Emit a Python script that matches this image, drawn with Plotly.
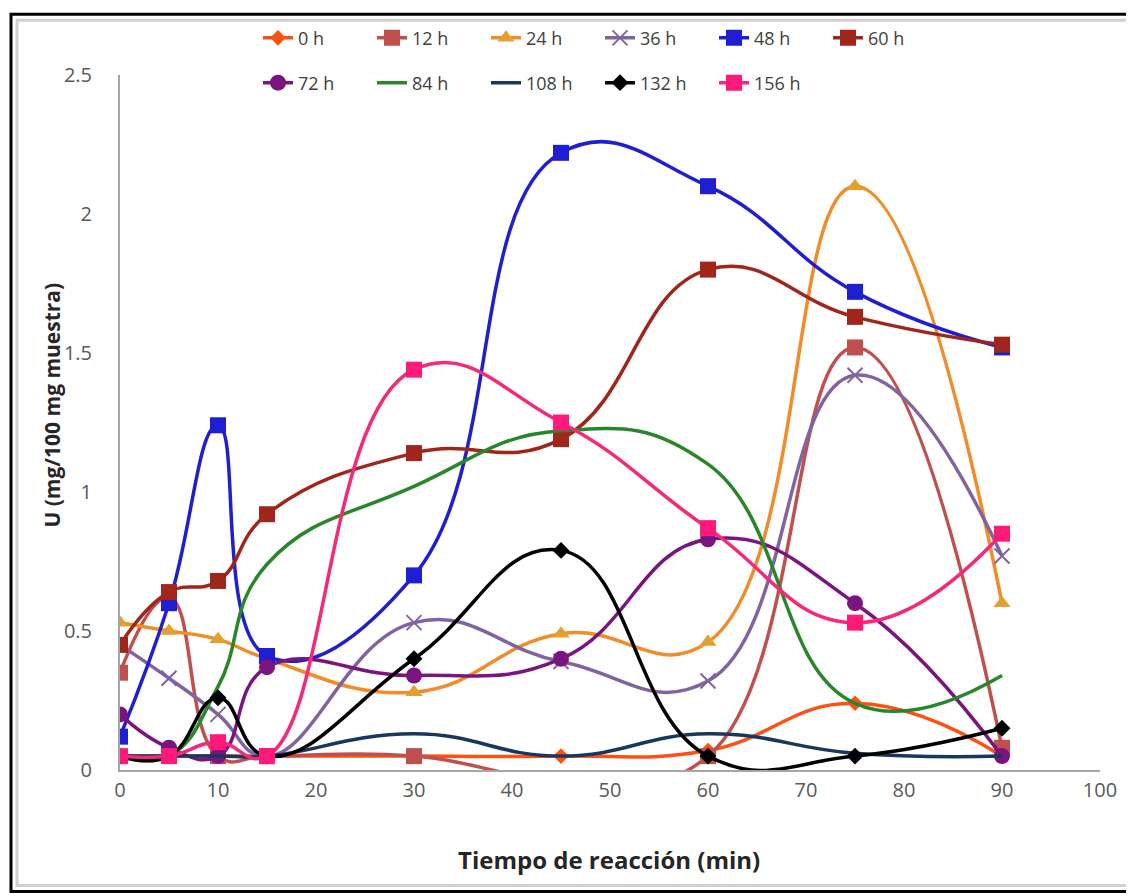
import plotly.graph_objects as go

x_min = [0, 5, 10, 15, 30, 45, 60, 75, 90]

u_0h = [0.05, 0.05, 0.05, 0.05, 0.05, 0.05, 0.07, 0.24, 0.05]
u_12h = [0.35, 0.62, 0.05, 0.05, 0.05, -0.03, 0.05, 1.52, 0.08]
u_24h = [0.53, 0.5, 0.47, 0.4, 0.28, 0.49, 0.46, 2.1, 0.6]
u_36h = [0.45, 0.33, 0.2, 0.05, 0.53, 0.39, 0.32, 1.42, 0.77]
u_48h = [0.12, 0.6, 1.24, 0.41, 0.7, 2.22, 2.1, 1.72, 1.52]
u_60h = [0.45, 0.64, 0.68, 0.92, 1.14, 1.19, 1.8, 1.63, 1.53]
u_72h = [0.2, 0.08, 0.05, 0.37, 0.34, 0.4, 0.83, 0.6, 0.05]
u_84h = [0.05, 0.05, 0.3, 0.74, 1.02, 1.22, 1.1, 0.24, 0.34]
u_108h = [0.05, 0.05, 0.05, 0.05, 0.13, 0.05, 0.13, 0.06, 0.05]
u_132h = [0.05, 0.05, 0.26, 0.05, 0.4, 0.79, 0.05, 0.05, 0.15]
u_156h = [0.05, 0.05, 0.1, 0.05, 1.44, 1.25, 0.87, 0.53, 0.85]

series_names = ["0 h", "12 h", "24 h", "36 h", "48 h", "60 h",
                "72 h", "84 h", "108 h", "132 h", "156 h"]
series_values = [u_0h, u_12h, u_24h, u_36h, u_48h, u_60h,
                 u_72h, u_84h, u_108h, u_132h, u_156h]

x_ticks = [0, 10, 20, 30, 40, 50, 60, 70, 80, 90, 100]
y_ticks = [0, 0.5, 1, 1.5, 2, 2.5]
y_tick_text = ["0", "0.5", "1", "1.5", "2", "2.5"]

styles = [
    dict(color="#FF5014", symbol="diamond", size=12, mcolor="#FF5014"),
    dict(color="#C0504D", symbol="square", size=16, mcolor="#C0504D"),
    dict(color="#F28C28", symbol="triangle-up", size=15, mcolor="#E3A030"),
    dict(color="#8064A2", symbol="x-thin", size=15, mcolor="#8064A2"),
    dict(color="#1E1ED2", symbol="square", size=16, mcolor="#1E1ED2"),
    dict(color="#A0251A", symbol="square", size=16, mcolor="#A0251A"),
    dict(color="#7A1580", symbol="circle", size=16, mcolor="#7A1580"),
    dict(color="#2A862A", symbol=None, size=0, mcolor="#2A862A"),
    dict(color="#17375E", symbol=None, size=0, mcolor="#17375E"),
    dict(color="#000000", symbol="diamond", size=13, mcolor="#000000"),
    dict(color="#F5287A", symbol="square", size=16, mcolor="#FF1A7A"),
]

fig = go.Figure()
for i, (name, vals, st) in enumerate(zip(series_names, series_values, styles)):
    has_marker = st["symbol"] is not None
    marker = dict(symbol=st["symbol"], size=st["size"], color=st["mcolor"],
                  line=dict(width=2 if st["symbol"] == "x-thin" else 0, color=st["mcolor"])) if has_marker else None
    fig.add_trace(go.Scatter(
        x=x_min, y=vals, name=name,
        mode="lines+markers" if has_marker else "lines",
        line=dict(color=st["color"], width=3.5, shape="spline", smoothing=1.3),
        marker=marker,
        legend="legend" if i < 6 else "legend2",
    ))

# page has an 8px body margin, so figure coords = reference coords - 8
OFF = 8
W, H = 1134 - OFF, 896 - OFF
L, T = 120 - OFF, 72 - OFF
R = W - (1100 - OFF)
B = H - (770 - OFF)
pw, ph = W - L - R, H - T - B


def px(xr):
    return (xr - OFF - L) / pw


def py(yr):
    return (H - B - (yr - OFF)) / ph


font_family = "Open Sans, Lato, sans-serif"

legend_common = dict(orientation="h", xanchor="left", yanchor="middle",
                     font=dict(size=18, color="#404040"), bgcolor="rgba(0,0,0,0)",
                     tracegroupgap=0, entrywidthmode="pixels", entrywidth=69)

fig.update_layout(
    width=W, height=H,
    margin=dict(l=L, r=R, t=T, b=B),
    paper_bgcolor="white", plot_bgcolor="white",
    font=dict(family=font_family, color="#404040"),
    xaxis=dict(range=[0, 100], tickvals=x_ticks,
               showgrid=False, zeroline=False, showline=True, linecolor="#A6A6A6",
               linewidth=2, ticks="", ticklabelstandoff=1,
               tickfont=dict(size=20, color="#595959")),
    yaxis=dict(range=[0, 2.5], tickvals=y_ticks, ticktext=y_tick_text,
               showgrid=False, zeroline=False, showline=True, linecolor="#A6A6A6",
               linewidth=2, ticks="", ticklabelstandoff=22,
               tickfont=dict(size=20, color="#595959")),
    showlegend=True,
    legend=dict(x=px(258), y=py(35), **legend_common),
    legend2=dict(x=px(258), y=py(80), **legend_common),
    annotations=[
        dict(text="<b>Tiempo de reacción (min)</b>", xref="paper", yref="paper",
             x=px(609), y=py(860), xanchor="center", yanchor="middle", showarrow=False,
             font=dict(size=24, color="#262626")),
        dict(text="<b>U (mg/100 mg muestra)</b>", xref="paper", yref="paper",
             x=px(52), y=py(404), xanchor="center", yanchor="middle", showarrow=False,
             textangle=-90, font=dict(size=21, color="#262626")),
    ],
    shapes=[
        dict(type="rect", xref="paper", yref="paper", x0=px(11), x1=px(1133), y0=py(11), y1=py(892),
             line=dict(color="black", width=3), layer="below"),
        dict(type="rect", xref="paper", yref="paper", x0=px(17), x1=px(1128), y0=py(17), y1=py(886),
             line=dict(color="#D0D0D0", width=3), layer="below"),
    ],
)

fig.write_html("out.html")
